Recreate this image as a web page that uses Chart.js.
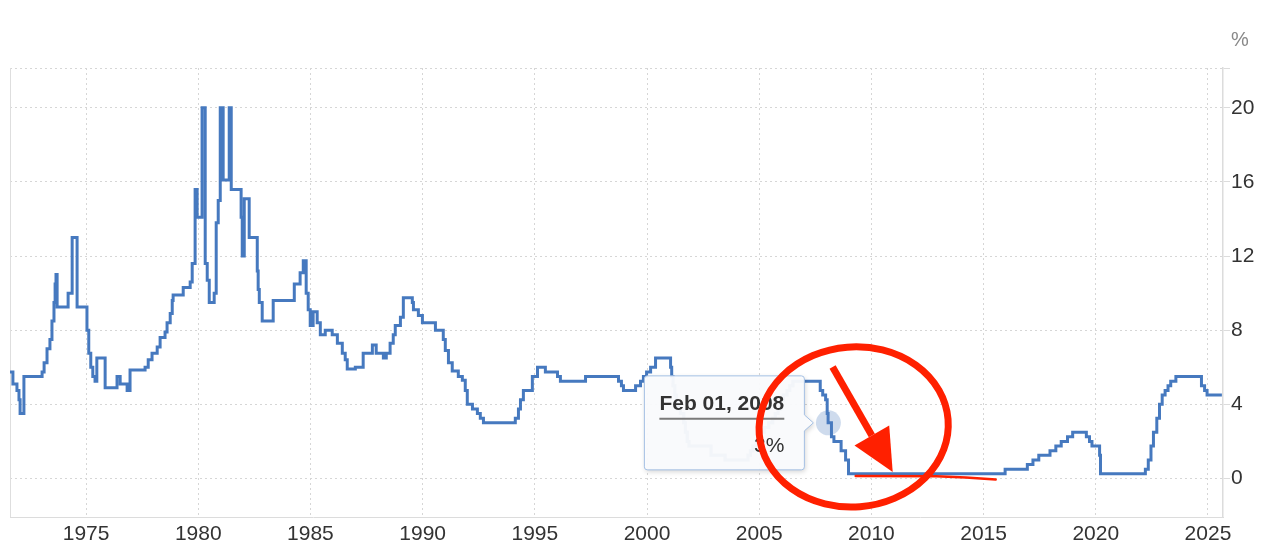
<!DOCTYPE html>
<html>
<head>
<meta charset="utf-8">
<title>Interest rate</title>
<script src="https://cdn.jsdelivr.net/npm/chart.js@4.4.1/dist/chart.umd.min.js"></script>
<style>
  html, body { margin: 0; padding: 0; background: #fff; }
  #wrap { position: relative; width: 1280px; height: 555px; }
</style>
</head>
<body>
<div id="wrap"><canvas id="rateChart" width="1280" height="555"></canvas></div>
<script>
// Dates (decimal years) where the rate changes, and the new rate from that date (%)
const changeDates = [
  1971.61, 1971.74, 1971.92, 1972.01, 1972.06, 1972.23, 1973.04, 1973.13, 1973.26, 1973.39,
  1973.48, 1973.57, 1973.62, 1973.66, 1973.71, 1974.20, 1974.38, 1974.60, 1975.04, 1975.12,
  1975.21, 1975.30, 1975.40, 1975.48, 1975.85, 1976.38, 1976.52, 1976.83, 1976.96, 1977.63,
  1977.77, 1977.94, 1978.17, 1978.30, 1978.52, 1978.61, 1978.75, 1978.84, 1978.88, 1979.33,
  1979.64, 1979.73, 1979.86, 1979.95, 1980.17, 1980.31, 1980.40, 1980.49, 1980.71, 1980.80,
  1980.89, 1980.98, 1981.11, 1981.38, 1981.47, 1981.91, 1981.96, 1982.05, 1982.27, 1982.63,
  1982.67, 1982.72, 1982.85, 1983.34, 1984.28, 1984.54, 1984.68, 1984.81, 1984.90, 1984.99,
  1985.12, 1985.30, 1985.44, 1985.66, 1985.97, 1986.20, 1986.42, 1986.55, 1986.64, 1987.00,
  1987.35, 1987.76, 1987.93, 1988.25, 1988.38, 1988.55, 1988.69, 1988.78, 1989.01, 1989.14,
  1989.54, 1989.59, 1989.81, 1989.99, 1990.57, 1990.92, 1991.01, 1991.15, 1991.32, 1991.59,
  1991.77, 1991.90, 1991.99, 1992.22, 1992.44, 1992.57, 1992.71, 1994.13, 1994.27, 1994.36,
  1994.49, 1994.89, 1995.12, 1995.47, 1996.01, 1996.14, 1997.26, 1998.73, 1998.86, 1998.95,
  1999.49, 1999.71, 1999.84, 1999.98, 2000.16, 2000.38, 2001.05, 2001.10, 2001.16, 2001.24,
  2001.30, 2001.38, 2001.49, 2001.64, 2001.71, 2001.79, 2001.87, 2002.85, 2003.48, 2004.50,
  2004.61, 2004.72, 2004.87, 2004.96, 2005.09, 2005.22, 2005.42, 2005.60, 2005.72, 2005.84,
  2005.96, 2006.08, 2006.24, 2006.36, 2006.50, 2007.72, 2007.83, 2007.96, 2008.03, 2008.07,
  2008.22, 2008.33, 2008.65, 2008.85, 2008.98, 2015.96, 2016.95, 2017.20, 2017.46, 2017.96,
  2018.22, 2018.46, 2018.74, 2018.97, 2019.58, 2019.72, 2019.83, 2020.17, 2020.21, 2022.21,
  2022.34, 2022.46, 2022.57, 2022.72, 2022.84, 2022.96, 2023.09, 2023.22, 2023.34, 2023.57,
  2024.71, 2024.85, 2024.96, 2025.62
];
const rates = [
  5.75, 5.1, 4.75, 4.25, 3.5, 5.5, 5.75, 6.25, 7.0, 7.5,
  8.5, 9.5, 10.5, 11.0, 9.25, 10.0, 13.0, 9.25, 8.0, 6.75,
  6.0, 5.5, 5.25, 6.5, 4.9, 5.5, 5.1, 4.75, 5.85, 6.0,
  6.4, 6.75, 7.1, 7.6, 7.9, 8.4, 8.9, 9.6, 9.9, 10.3,
  10.6, 11.6, 15.6, 14.1, 20.0, 11.6, 10.7, 9.5, 10.0, 13.8,
  15.0, 20.0, 16.1, 20.0, 15.6, 14.1, 12.0, 15.1, 13.0, 11.2,
  10.2, 9.5, 8.5, 9.6, 10.5, 11.1, 11.75, 10.0, 9.1, 8.25,
  9.0, 8.4, 7.75, 8.0, 7.75, 7.3, 6.75, 6.4, 5.9, 6.0,
  6.75, 7.2, 6.75, 6.5, 6.75, 7.3, 7.75, 8.25, 8.7, 9.75,
  9.5, 9.1, 8.8, 8.4, 8.0, 7.5, 6.9, 6.25, 5.8, 5.5,
  5.3, 4.75, 4.0, 3.75, 3.5, 3.25, 3.0, 3.25, 3.75, 4.25,
  4.75, 5.5, 6.0, 5.75, 5.5, 5.25, 5.5, 5.25, 5.0, 4.75,
  5.0, 5.25, 5.5, 5.75, 6.0, 6.5, 6.0, 5.5, 5.0, 4.5,
  4.0, 3.75, 3.5, 3.0, 2.5, 2.0, 1.75, 1.25, 1.0, 1.25,
  1.5, 1.75, 2.0, 2.25, 2.5, 2.75, 3.0, 3.25, 3.5, 3.75,
  4.25, 4.5, 4.75, 5.0, 5.25, 4.75, 4.5, 4.25, 3.5, 3.0,
  2.25, 2.0, 1.5, 1.0, 0.25, 0.5, 0.75, 1.0, 1.25, 1.5,
  1.75, 2.0, 2.25, 2.5, 2.25, 2.0, 1.75, 1.25, 0.25, 0.5,
  1.0, 1.75, 2.5, 3.25, 4.0, 4.5, 4.75, 5.0, 5.25, 5.5,
  5.0, 4.75, 4.5, 4.5
];

// Axis ticks
const yearTicks = [1975, 1980, 1985, 1990, 1995, 2000, 2005, 2010, 2015, 2020, 2025];
const rateTicks = [0, 4, 8, 12, 16, 20];

// Visible range
const xMin = 1971.61, xMax = 2025.67;
const yMin = -2.08, yMax = 22.15;

// Highlighted point (Feb 01, 2008)
const hoverDate = 2008 + 1 / 12;
const hoverLabel = "Feb 01, 2008";

const lineColor = "#4679bf";
const markRed = "#ff2000";

Chart.defaults.font.family = '"Liberation Sans", Arial, Helvetica, sans-serif';

// Rate in force at a given date (steps hold until the next change)
function rateAt(date) {
  let v = rates[0];
  for (let i = 0; i < changeDates.length; i++) {
    if (changeDates[i] <= date) v = rates[i];
  }
  return v;
}

// Frame, unit label, hover tooltip and the red hand-drawn marks
const overlay = {
  id: "overlay",
  beforeDatasetsDraw(chart) {
    const { ctx, chartArea } = chart;
    ctx.save();
    ctx.strokeStyle = "#dedede";
    ctx.lineWidth = 1;
    ctx.beginPath();
    ctx.moveTo(chartArea.left + 0.5, chartArea.top);
    ctx.lineTo(chartArea.left + 0.5, chartArea.bottom);
    ctx.stroke();
    ctx.restore();
  },
  afterDraw(chart) {
    const { ctx, scales: { x, y } } = chart;
    const px = (v) => x.getPixelForValue(v);
    const py = (v) => y.getPixelForValue(v);

    ctx.save();
    // unit label above the right axis
    ctx.fillStyle = "#888";
    ctx.font = '20px "Liberation Sans", Arial, sans-serif';
    ctx.textAlign = "center";
    ctx.textBaseline = "middle";
    ctx.fillText("%", x.right + 17, 40);

    // tooltip box
    const hv = rateAt(hoverDate);
    const hx = px(hoverDate), hy = py(hv);
    const right = hx - 24, left = right - 160, top = hy - 47, bottom = hy + 47;
    ctx.save();
    ctx.shadowColor = "rgba(0,0,0,0.18)";
    ctx.shadowBlur = 5;
    ctx.shadowOffsetX = 1;
    ctx.shadowOffsetY = 2;
    ctx.beginPath();
    ctx.moveTo(left + 3, top);
    ctx.lineTo(right - 3, top);
    ctx.quadraticCurveTo(right, top, right, top + 3);
    ctx.lineTo(right, hy - 8);
    ctx.lineTo(hx - 15, hy);
    ctx.lineTo(right, hy + 8);
    ctx.lineTo(right, bottom - 3);
    ctx.quadraticCurveTo(right, bottom, right - 3, bottom);
    ctx.lineTo(left + 3, bottom);
    ctx.quadraticCurveTo(left, bottom, left, bottom - 3);
    ctx.lineTo(left, top + 3);
    ctx.quadraticCurveTo(left, top, left + 3, top);
    ctx.closePath();
    ctx.fillStyle = "rgba(250,251,253,0.96)";
    ctx.fill();
    ctx.restore();
    ctx.strokeStyle = "#a4c0e4";
    ctx.lineWidth = 1;
    ctx.stroke();

    ctx.fillStyle = "#333";
    ctx.textAlign = "left";
    ctx.textBaseline = "alphabetic";
    ctx.font = 'bold 21px "Liberation Sans", Arial, sans-serif';
    ctx.fillText(hoverLabel, left + 15, hy - 13);
    const tw = ctx.measureText(hoverLabel).width;
    ctx.strokeStyle = "#7a7a7a";
    ctx.lineWidth = 2;
    ctx.beginPath();
    ctx.moveTo(left + 15, hy - 4);
    ctx.lineTo(left + 15 + tw, hy - 4);
    ctx.stroke();
    ctx.font = '21px "Liberation Sans", Arial, sans-serif';
    ctx.textAlign = "right";
    ctx.fillText(hv + "%", left + 15 + tw, hy + 29);

    // hover marker
    ctx.fillStyle = "rgba(80,125,190,0.28)";
    ctx.beginPath();
    ctx.arc(hx, hy, 12.5, 0, Math.PI * 2);
    ctx.fill();

    // red ellipse
    const ex = px(2009.21), ey = py(2.78);
    const erx = px(2009.21 + 4.22) - ex, ery = py(2.78 - 4.32) - ey;
    ctx.strokeStyle = markRed;
    ctx.lineWidth = 7;
    ctx.beginPath();
    ctx.ellipse(ex, ey, erx, ery, -0.08, 0, Math.PI * 2);
    ctx.stroke();

    // red arrow
    const ax0 = px(2008.27), ay0 = py(6.02);
    const ax1 = px(2010.95), ay1 = py(0.35);
    const ang = Math.atan2(ay1 - ay0, ax1 - ax0);
    const headLen = 42, headHalf = 20;
    const bx = ax1 - headLen * Math.cos(ang), by = ay1 - headLen * Math.sin(ang);
    ctx.lineWidth = 7;
    ctx.lineCap = "butt";
    ctx.beginPath();
    ctx.moveTo(ax0, ay0);
    ctx.lineTo(bx, by);
    ctx.stroke();
    ctx.fillStyle = markRed;
    ctx.beginPath();
    ctx.moveTo(ax1, ay1);
    ctx.lineTo(bx + headHalf * Math.sin(ang), by - headHalf * Math.cos(ang));
    ctx.lineTo(bx - headHalf * Math.sin(ang), by + headHalf * Math.cos(ang));
    ctx.closePath();
    ctx.fill();

    // thin red underline along the zero-rate period
    ctx.lineWidth = 2.5;
    ctx.lineCap = "round";
    ctx.beginPath();
    ctx.moveTo(px(2009.30), py(0.13));
    ctx.lineTo(px(2012.9), py(0.12));
    ctx.quadraticCurveTo(px(2014.2), py(0.08), px(2015.54), py(-0.06));
    ctx.stroke();
    ctx.restore();
  }
};

const ctx = document.getElementById("rateChart").getContext("2d");
new Chart(ctx, {
  type: "line",
  data: {
    datasets: [{
      data: changeDates.map((d, i) => ({ x: d, y: rates[i] })),
      borderColor: lineColor,
      borderWidth: 3,
      pointRadius: 0,
      stepped: true,
      fill: false
    }]
  },
  options: {
    responsive: false,
    animation: false,
    devicePixelRatio: 1,
    layout: { padding: { left: 10, top: 68, right: 0, bottom: 0 } },
    plugins: { legend: { display: false }, tooltip: { enabled: false } },
    scales: {
      x: {
        type: "linear",
        min: xMin,
        max: xMax,
        afterBuildTicks: (s) => { s.ticks = yearTicks.map((v) => ({ value: v })); },
        afterFit: (s) => { s.height = 38; },
        ticks: {
          callback: (v) => String(v),
          color: "#333",
          font: { size: 21 },
          padding: 5,
          maxRotation: 0,
          autoSkip: false
        },
        grid: { color: "#d6d6d6", lineWidth: 1, drawTicks: false },
        border: { display: true, color: "#dcdcdc", width: 1, dash: [2, 3] }
      },
      y: {
        position: "right",
        min: yMin,
        max: yMax,
        afterBuildTicks: (s) => { s.ticks = rateTicks.concat([yMax]).map((v) => ({ value: v })); },
        afterFit: (s) => { s.width = 57; },
        ticks: {
          callback: (v) => (rateTicks.includes(v) ? String(v) : ""),
          color: "#333",
          font: { size: 21 },
          padding: 1
        },
        grid: { color: "#d6d6d6", lineWidth: 1, drawTicks: true, tickLength: 7, tickColor: "#dcdcdc", tickBorderDash: [] },
        border: { display: true, color: "#dcdcdc", width: 1.5, dash: [2, 3] }
      }
    }
  },
  plugins: [overlay]
});
</script>
</body>
</html>
